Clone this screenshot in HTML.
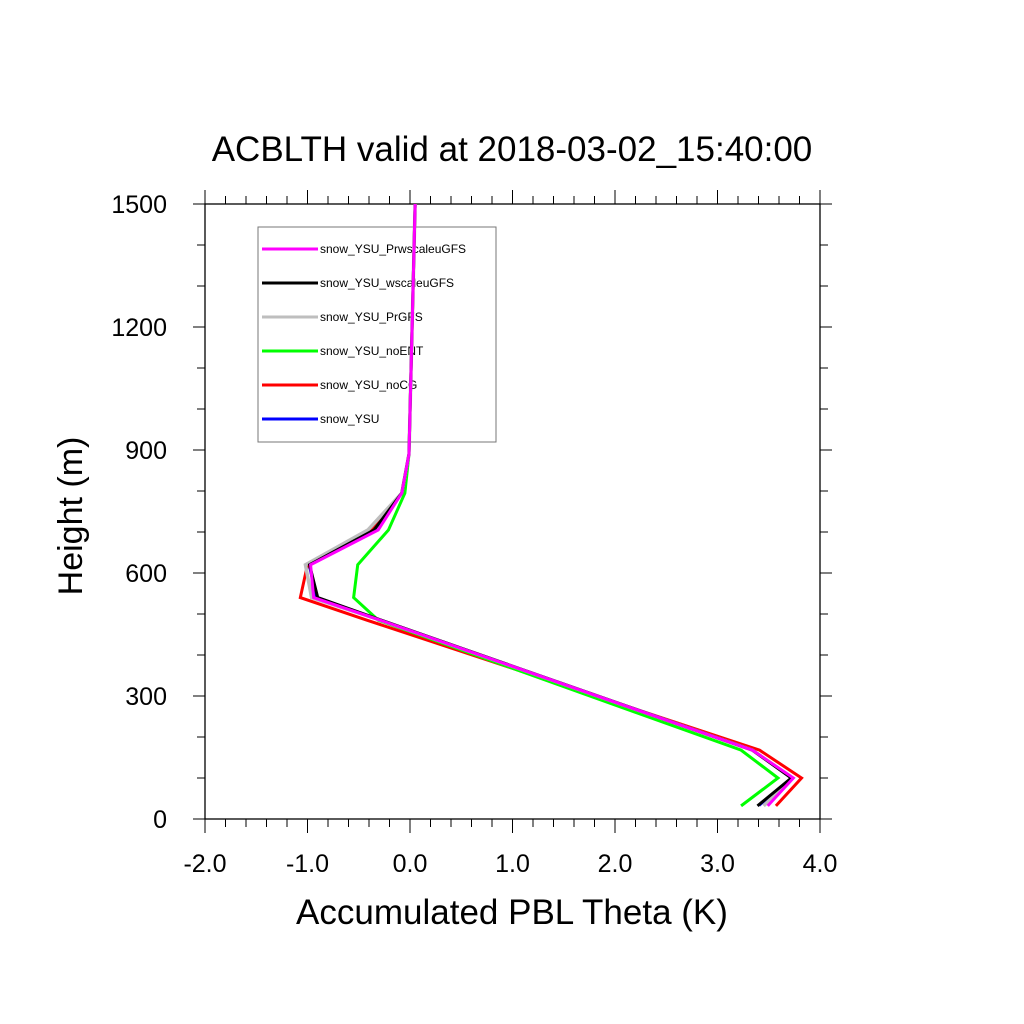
<!DOCTYPE html>
<html><head><meta charset="utf-8"><style>body{margin:0;background:#fff}svg{display:block}</style></head>
<body>
<svg width="1024" height="1024" viewBox="0 0 1024 1024" xmlns="http://www.w3.org/2000/svg" font-family="Liberation Sans, sans-serif">
<rect width="1024" height="1024" fill="#fff"/>
<text x="512" y="161" font-size="35" text-anchor="middle">ACBLTH valid at 2018-03-02_15:40:00</text>
<g id="ticks"></g>
<g id="legend"></g>
<g id="series"></g>
<text x="512" y="924" font-size="35" text-anchor="middle">Accumulated PBL Theta (K)</text>
<text transform="translate(82,516) rotate(-90)" font-size="34" text-anchor="middle">Height (m)</text>
<script>
const heights=[32,100,168,485,540,620,705,795,890,1500];
const seriesNames=["snow_YSU","snow_YSU_noCG","snow_YSU_noENT","snow_YSU_PrGFS","snow_YSU_wscaleuGFS","snow_YSU_PrwscaleuGFS"];
const sYSU=[3.41,3.72,3.34,-0.27,-0.92,-0.99,-0.37,-0.08,-0.01,0.05];
const sNoCG=[3.57,3.82,3.41,-0.42,-1.07,-1.00,-0.37,-0.08,-0.01,0.05];
const sNoENT=[3.23,3.59,3.23,-0.31,-0.55,-0.51,-0.21,-0.05,-0.01,0.05];
const sPrGFS=[3.45,3.73,3.34,-0.29,-0.96,-1.02,-0.41,-0.08,-0.01,0.05];
const sWscale=[3.39,3.72,3.34,-0.28,-0.90,-0.98,-0.35,-0.08,-0.01,0.05];
const sPrWscale=[3.49,3.74,3.34,-0.29,-0.94,-0.97,-0.31,-0.08,-0.01,0.05];
const xTicks=["-2.0","-1.0","0.0","1.0","2.0","3.0","4.0"];
const yTicks=["0","300","600","900","1200","1500"];
const NS="http://www.w3.org/2000/svg";
const X0=205,X1=820,Y0=819,Y1=204;
const xs=v=>X0+(v+2)/6*(X1-X0);
const ys=v=>Y0-v/1500*(Y0-Y1);
function mk(tag,attrs,parent){const e=document.createElementNS(NS,tag);for(const k in attrs)e.setAttribute(k,attrs[k]);parent.appendChild(e);return e;}
const T=document.getElementById('ticks');
const frame=mk('rect',{x:X0,y:Y1,width:X1-X0,height:Y0-Y1,fill:'none',stroke:'#000','stroke-width':1.3},T);


for(let i=0;i<=30;i++){const v=-2+i*0.2;const x=xs(v);const L=(i%5==0)?14:8;
 mk('line',{x1:x,y1:Y0,x2:x,y2:Y0+L,stroke:'#000','stroke-width':1},T);
 mk('line',{x1:x,y1:Y1,x2:x,y2:Y1-L,stroke:'#000','stroke-width':1},T);}
for(let i=0;i<=15;i++){const y=ys(i*100);const L=(i%3==0)?12:8;
 mk('line',{x1:X0,y1:y,x2:X0-L,y2:y,stroke:'#000','stroke-width':1},T);
 mk('line',{x1:X1,y1:y,x2:X1+L,y2:y,stroke:'#000','stroke-width':1},T);}
xTicks.forEach(t=>{const e=mk('text',{x:xs(parseFloat(t)),y:872,'font-size':25,'text-anchor':'middle'},T);e.textContent=t;
 
 });
yTicks.forEach(t=>{const e=mk('text',{x:167,y:ys(parseFloat(t))+9,'font-size':25,'text-anchor':'end'},T);e.textContent=t;
 
 });
const cols=["#0000ff","#ff0000","#00ff00","#bebebe","#000000","#ff00ff"];
const Lg=document.getElementById('legend');
mk('rect',{x:258,y:227,width:238,height:215,fill:'#fff',stroke:'#777','stroke-width':1},Lg);
for(let k=0;k<6;k++){const i=5-k;const y=249+k*34;
 const l=mk('line',{x1:262,y1:y,x2:318,y2:y,stroke:cols[i],'stroke-width':3},Lg);
 
 
 const t=mk('text',{x:320,y:y+4,'font-size':12},Lg);t.textContent=seriesNames[i];
 
 }
const S=document.getElementById('series');
const data=[sYSU,sNoCG,sNoENT,sPrGFS,sWscale,sPrWscale];
const widths=[1.6,3,3,3.5,3,3];
data.forEach((d,i)=>{const p=mk('polyline',{points:d.map((v,j)=>xs(v)+','+ys(heights[j])).join(' '),fill:'none',stroke:cols[i],'stroke-width':widths[i]},S);
 
 });
</script>
</svg>
</body></html>
